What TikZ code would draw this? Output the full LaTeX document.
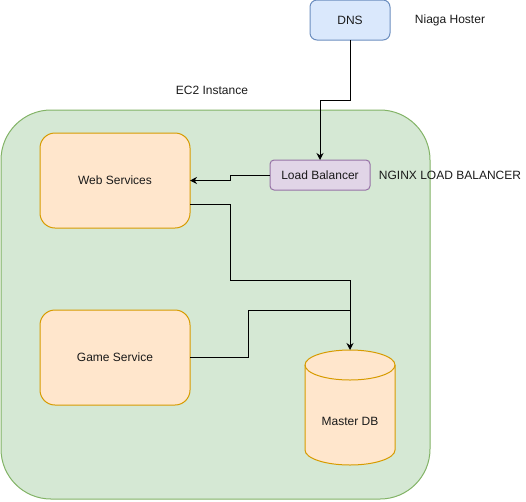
\documentclass[tikz,border=0pt]{standalone}
\usepackage{fontspec}
\setmainfont{Liberation Sans}
\usetikzlibrary{arrows.meta,positioning,calc}
\definecolor{ink}{HTML}{1A1A1A}
\definecolor{ecfill}{HTML}{D5E8D4}
\definecolor{ecdraw}{HTML}{82B366}
\definecolor{svcfill}{HTML}{FFE6CC}
\definecolor{svcdraw}{HTML}{D79B00}
\definecolor{lbfill}{HTML}{E1D5E7}
\definecolor{lbdraw}{HTML}{9673A6}
\definecolor{dnsfill}{HTML}{DAE8FC}
\definecolor{dnsdraw}{HTML}{6C8EBF}

\begin{document}
\begin{tikzpicture}[
  x=1pt, y=-1pt,
  font=\fontsize{12}{14}\selectfont,
  text=ink,
  line width=1pt,
  svc/.style={rounded corners=15pt, draw=svcdraw, fill=svcfill, minimum width=150pt, minimum height=95pt, inner sep=0pt, outer sep=0pt},
  dnsbox/.style={rounded corners=7pt, draw=dnsdraw, fill=dnsfill, minimum width=80pt, minimum height=40pt, inner sep=0pt, outer sep=0pt},
  lbbox/.style={rounded corners=4pt, draw=lbdraw, fill=lbfill, minimum width=100pt, minimum height=30pt, inner sep=0pt, outer sep=0pt},
  dbbox/.style={minimum width=90pt, minimum height=115pt, inner sep=0pt, outer sep=0pt},
  cyl/.style={draw=svcdraw, fill=svcfill},
  arrow/.style={-{Stealth[length=7pt,width=7pt]}, draw=black},
  link/.style={draw=black},
]
\useasboundingbox (0,0) rectangle (526,501);

% EC2 instance
\draw[ecdraw, fill=ecfill, rounded corners=50pt] (1,110) rectangle (430,499);
\node (ec2) at (212,90) {EC2 Instance};

\node[dnsbox] (dns) at (350,20) {DNS};
\node (hoster) at (450,20) {Niaga Hoster};

\node[lbbox] (lb) at (320,175) {Load Balancer};
\node (nginx) at (450,175) {NGINX LOAD BALANCER};

\node[svc] (web) at (115,180.5) {Web Services};
\node[svc] (game) at (115,357.5) {Game Service};

% master db cylinder
\draw[cyl] (305,365) -- (305,450) arc[start angle=180, end angle=360, x radius=45pt, y radius=15pt]
  -- (395,365) arc[start angle=0, end angle=180, x radius=45pt, y radius=15pt] -- cycle;
\draw[cyl, fill=none] (305,365) arc[start angle=180, end angle=360, x radius=45pt, y radius=15pt];
\node[dbbox, label={[yshift=-14pt]center:Master DB}] (db) at (350,407.5) {};

\draw[arrow] (dns.south) -- (350,100) -| (lb.north);
\draw[arrow] (lb.west) -- ++(-40,0) |- (web.east);
\draw[arrow] ($(web.south east)!.25!(web.north east)$) -- ++(40,0) |- (350,280) -- (db.north);
\draw[link] (game.east) -| (248,310) -- (350,310);

\end{tikzpicture}
\end{document}
